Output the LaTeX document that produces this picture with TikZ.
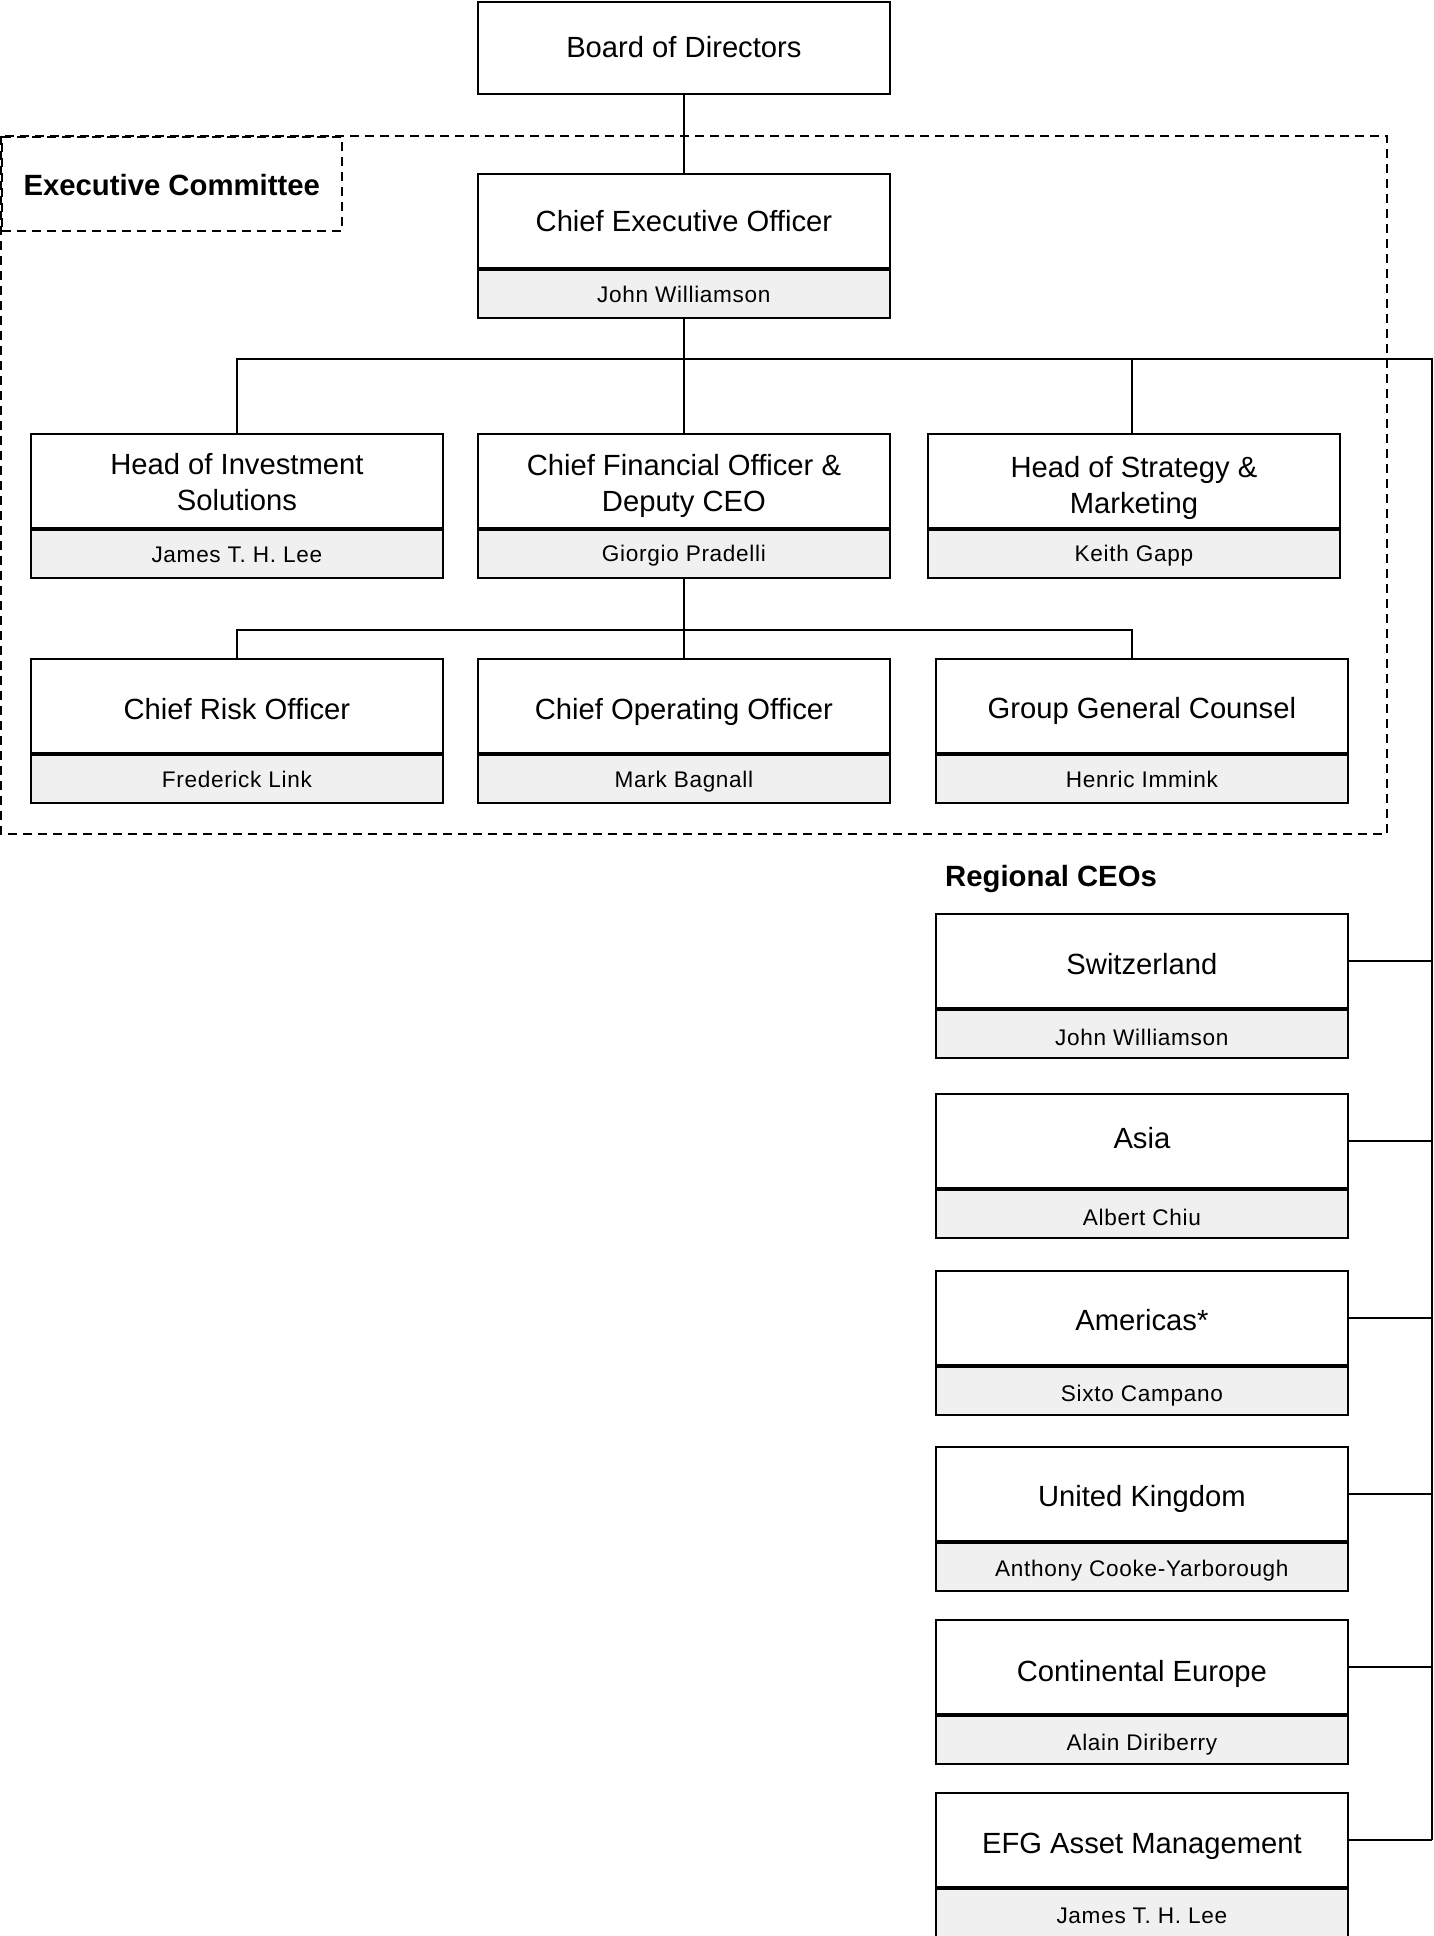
\documentclass[tikz,border=0pt]{standalone}
\usepackage{fontspec}
\setmainfont{Liberation Sans}
\newfontfamily\nmfamily[LetterSpace=3]{Liberation Sans}
\definecolor{namefill}{HTML}{F0F0F0}
\newcommand\ttlfont{\fontsize{29.2}{36}\selectfont}
\newcommand\nmfont{\nmfamily\fontsize{22.6}{27}\selectfont}
\newcommand\hdfont{\fontsize{29.3}{35}\selectfont\bfseries}
\newcommand\twolines[2]{\begin{tabular}[t]{@{}c@{}}#1\\#2\end{tabular}}
\begin{document}
\begin{tikzpicture}[x=1pt,y=-1pt,
  titlebox/.style={draw, line width=1.8pt, fill=white, minimum width=412pt, minimum height=94pt, inner sep=0pt, font=\ttlfont, anchor=north west, text depth=0pt, text height=#1},
  titlebox/.default=27pt,
  twobox/.style={titlebox, text height=0pt, text depth=#1},
  namebox/.style={draw, line width=1.8pt, fill=namefill, minimum width=412pt, minimum height=48pt, inner sep=0pt, font=\nmfont, anchor=north, text depth=0pt, text height=#1},
  namebox/.default=18.4pt,
  conn/.style={line width=1.7pt},
  dashbox/.style={draw, line width=1.5pt, dash pattern=on 9pt off 6pt},
  heading/.style={font=\hdfont, inner sep=0pt}]
\useasboundingbox (0,0) rectangle (1434,1936);

% Executive committee frame
\draw[dashbox] (1,136) rectangle (1387,834);
\node[dashbox, heading, minimum width=340pt, minimum height=94pt, anchor=north west, text height=24pt, text depth=0pt] (ec) at (1,136) {Executive Committee};

% Boxes
\node[titlebox=20pt, minimum height=92pt] (board) at (477,1) {Board of Directors};
\node[titlebox=21.4pt] (ceo) at (477,173) {Chief Executive Officer};
\node[namebox=17.8pt] (ceoN) at (ceo.south) {John Williamson};

\node[twobox=13.4pt] (his) at (30,433) {\twolines{Head of Investment}{Solutions}};
\node[namebox=18.4pt] (hisN) at (his.south) {James T. H. Lee};
\node[twobox=10pt] (cfo) at (477,433) {\twolines{Chief Financial Officer \&}{Deputy CEO}};
\node[namebox=16pt] (cfoN) at (cfo.south) {Giorgio Pradelli};
\node[twobox=6.6pt] (hsm) at (927,433) {\twolines{Head of Strategy \&}{Marketing}};
\node[namebox=16.4pt] (hsmN) at (hsm.south) {Keith Gapp};

\node[titlebox=26.6pt] (cro) at (30,658) {Chief Risk Officer};
\node[namebox=18.4pt] (croN) at (cro.south) {Frederick Link};
\node[titlebox=27.6pt] (coo) at (477,658) {Chief Operating Officer};
\node[namebox=18.4pt] (cooN) at (coo.south) {Mark Bagnall};
\node[titlebox=26pt] (ggc) at (935,658) {Group General Counsel};
\node[namebox=18.4pt] (ggcN) at (ggc.south) {Henric Immink};

\node[heading, anchor=base west] (reg) at (945,886) {Regional CEOs};

\node[titlebox=27pt] (sw) at (935,913) {Switzerland};
\node[namebox=23pt] (swN) at (sw.south) {John Williamson};
\node[titlebox=16pt] (asia) at (935,1093) {Asia};
\node[namebox=22.6pt] (asiaN) at (asia.south) {Albert Chiu};
\node[titlebox=25.2pt] (am) at (935,1270) {Americas*};
\node[namebox=21.4pt] (amN) at (am.south) {Sixto Campano};
\node[titlebox=24.4pt] (uk) at (935,1446) {United Kingdom};
\node[namebox=20.4pt] (ukN) at (uk.south) {Anthony Cooke-Yarborough};
\node[titlebox=30pt] (ce) at (935,1619) {Continental Europe};
\node[namebox=21pt] (ceN) at (ce.south) {Alain Diriberry};
\node[titlebox=28pt] (efg) at (935,1792) {EFG Asset Management};
\node[namebox=21pt] (efgN) at (efg.south) {James T. H. Lee};

% Connectors
\coordinate (bus) at (ceoN.south |- 0,359);
\coordinate (rt) at (1432,359);
\coordinate (bus2) at (cfoN.south |- 0,630);
\draw[conn] (board.south) -- (ceo.north);
\draw[conn] (ceoN.south) -- (bus);
\draw[conn] (his.north) |- (rt) -- (rt |- efg.east);
\draw[conn] (cfo.north) -- (cfo.north |- bus);
\draw[conn] ([xshift=-2pt]hsm.north) -- ([xshift=-2pt]hsm.north |- bus);
\draw[conn] (cfoN.south) -- (coo.north);
\draw[conn] (cro.north) |- ([xshift=-10pt]ggc.north |- bus2) -- ([xshift=-10pt]ggc.north);
\foreach \n in {sw,asia,am,uk,ce,efg} \draw[conn] (\n.east) -- (rt |- \n.east);
\end{tikzpicture}
\end{document}
